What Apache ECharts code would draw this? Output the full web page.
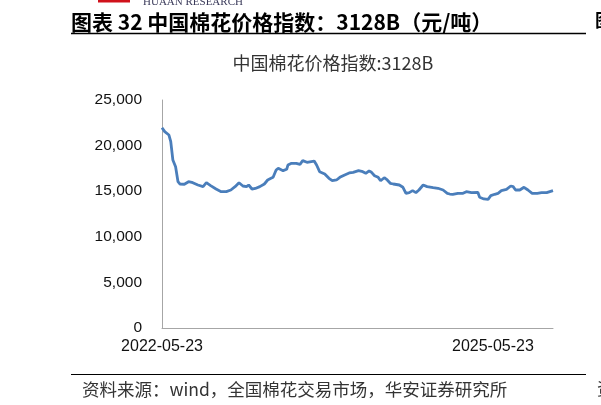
<!DOCTYPE html>
<html>
<head>
<meta charset="utf-8">
<script src="https://cdn.jsdelivr.net/npm/echarts@6/dist/echarts.min.js"></script>
<style>
html,body{margin:0;padding:0;background:#fff;}
#c{width:601px;height:405px;}
</style>
</head>
<body>
<div id="c"></div>
<script>
const chartTitle = '中国棉花价格指数:3128B';
const headerText = '图表 32 中国棉花价格指数：3128B（元/吨）';
const footerText = '资料来源：wind，全国棉花交易市场，华安证券研究所';
const yTicks = [0, 5000, 10000, 15000, 20000, 25000];
const xLabelDates = ['2022-05-23', '2025-05-23'];
const dates = [
'2022-05-23','2022-06-01','2022-06-15','2022-06-21','2022-06-28','2022-07-07','2022-07-15','2022-07-21',
'2022-08-05','2022-08-19','2022-09-02','2022-09-19','2022-10-06','2022-10-17','2022-10-31','2022-11-18',
'2022-12-05','2022-12-22','2023-01-06','2023-01-20','2023-02-02','2023-02-15','2023-02-27','2023-03-06',
'2023-03-17','2023-03-28','2023-04-12','2023-04-27','2023-05-08','2023-05-19','2023-05-26','2023-06-05',
'2023-06-12','2023-06-28','2023-07-10','2023-07-14','2023-07-26','2023-08-11','2023-08-23','2023-09-01',
'2023-09-15','2023-10-09','2023-10-17','2023-10-27','2023-11-13','2023-11-27','2023-12-08','2023-12-22',
'2024-01-02','2024-01-18','2024-02-02','2024-02-15','2024-03-04','2024-03-18','2024-03-28','2024-04-08',
'2024-04-16','2024-04-26','2024-05-08','2024-05-16','2024-05-28','2024-06-07','2024-06-17','2024-06-27',
'2024-07-17','2024-07-29','2024-08-08','2024-08-19','2024-08-30','2024-09-10','2024-09-20','2024-10-04',
'2024-10-17','2024-11-06','2024-11-22','2024-12-09','2024-12-23','2024-12-31','2025-01-10','2025-01-27',
'2025-02-13','2025-02-24','2025-03-13','2025-04-03','2025-04-09','2025-04-23','2025-05-07','2025-05-16',
'2025-05-29','2025-06-09','2025-06-20','2025-07-07','2025-07-21','2025-07-29','2025-08-06','2025-08-20',
'2025-09-03','2025-09-16','2025-09-30','2025-10-17','2025-10-31','2025-11-17','2025-12-08'
];
const prices = [
21960,21530,21160,20430,18420,17690,16040,15790,
15760,16040,15930,15680,15500,15930,15610,15240,
14950,14950,15130,15500,15930,15570,15500,15680,
15240,15300,15500,15790,16230,16410,16520,17320,
17510,17250,17400,17870,18060,18060,17950,18350,
18170,18310,17870,17140,16890,16410,16150,16230,
16520,16780,17000,17070,17250,17140,16960,17220,
17070,16700,16520,16150,16480,16230,15870,15790,
15680,15430,14770,14840,15060,14840,15130,15680,
15500,15390,15320,15130,14770,14690,14660,14770,
14770,14950,14840,14880,14330,14150,14110,14510,
14660,14770,15060,15210,15570,15500,15130,15130,
15430,15130,14770,14770,14840,14840,15060
];

function ts(s){const p=s.split('-').map(Number);return Date.UTC(p[0],p[1]-1,p[2]);}
function fmtDate(v){const d=new Date(v);const m=d.getUTCMonth()+1,day=d.getUTCDate();
  return d.getUTCFullYear()+'-'+(m<10?'0':'')+m+'-'+(day<10?'0':'')+day;}

const seriesData = dates.map((d,i)=>[ts(d), prices[i]]);
const chart = echarts.init(document.getElementById('c'), null, {renderer:'canvas'});
chart.setOption({
  backgroundColor:'#fff',
  animation:false,
  title:{text:chartTitle,left:328,top:49,textAlign:'center',
    textStyle:{fontFamily:'Noto Sans CJK SC',fontSize:18,fontWeight:'normal',color:'#333'}},
  grid:{left:162,right:48,top:100,bottom:77,containLabel:false},
  xAxis:{type:'value',min:ts(dates[0]),max:ts(dates[dates.length-1]),scale:true,
    axisLine:{show:true,lineStyle:{color:'#a6a6a6',width:1}},
    axisTick:{show:false},splitLine:{show:false},
    axisLabel:{customValues:xLabelDates.map(ts),formatter:function(v){return fmtDate(v);},
      fontFamily:'Liberation Sans',fontSize:16,color:'#111',margin:11,hideOverlap:false}
  },
  yAxis:{type:'value',min:yTicks[0],max:yTicks[yTicks.length-1],interval:5000,
    axisLine:{show:true,lineStyle:{color:'#a6a6a6',width:1}},
    axisTick:{show:false},splitLine:{show:false},
    axisLabel:{margin:20,fontFamily:'Liberation Sans',fontSize:15.5,color:'#111',
      formatter:function(v){return v.toLocaleString('en-US');}}
  },
  series:[{type:'line',data:seriesData,showSymbol:false,symbol:'none',
    lineStyle:{color:'#4a7ebb',width:2.8},itemStyle:{color:'#4a7ebb'}}],
  graphic:[
    {type:'rect',shape:{x:98,y:0,width:32,height:2.5},style:{fill:'#d0111b'}},
    {type:'text',x:143,y:-3,style:{text:'HUAAN RESEARCH',font:'11px "Liberation Serif"',fill:'#3a3a5a'}},
    {type:'text',x:71,y:22,style:{text:headerText,font:'bold 21px "Noto Sans CJK SC"',fill:'#000',verticalAlign:'middle'}},
    {type:'text',x:595,y:20,style:{text:'图',font:'bold 18px "Noto Sans CJK SC"',fill:'#000',verticalAlign:'middle'}},
    {type:'line',shape:{x1:71,y1:33.5,x2:586,y2:33.5},style:{stroke:'#000',lineWidth:1.5}},
    {type:'line',shape:{x1:71,y1:374.5,x2:586,y2:374.5},style:{stroke:'#000',lineWidth:1.2}},
    {type:'text',x:82,y:389,style:{text:footerText,font:'17.5px "Noto Sans CJK SC"',fill:'#333',verticalAlign:'middle'}},
    {type:'text',x:597,y:389,style:{text:'资',font:'17px "Noto Sans CJK SC"',fill:'#333',verticalAlign:'middle'}}
  ]
});
</script>
</body>
</html>
